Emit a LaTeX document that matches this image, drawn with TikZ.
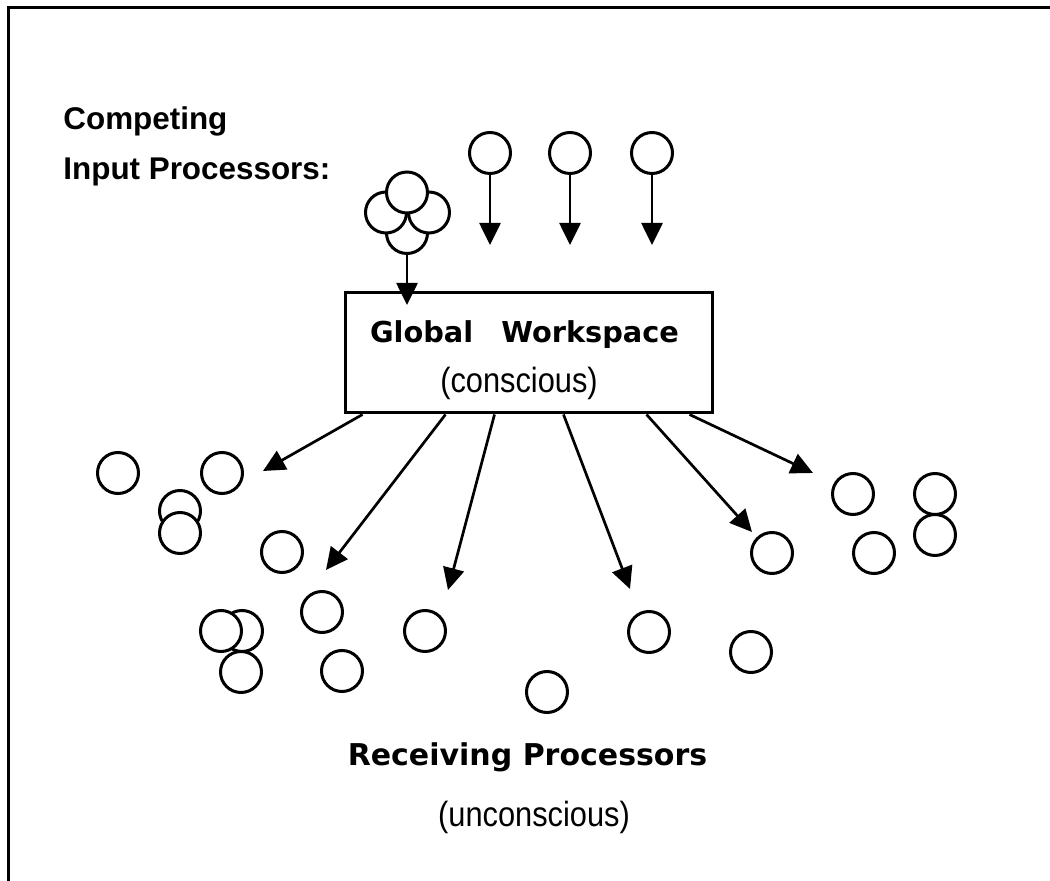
\documentclass[tikz,border=0pt]{standalone}
\usepackage{fontspec}
\setmainfont{Liberation Sans}
\newfontfamily\narrowfont[FakeStretch=0.88]{Liberation Sans}
\newfontfamily\chicfont{DejaVu Sans}
\usetikzlibrary{arrows.meta,calc}
\begin{document}
\begin{tikzpicture}[x=0.5pt,y=-0.5pt,
  proc/.style={circle,draw,line width=1.5pt,fill=white,minimum size=20.5pt,inner sep=0pt},
  arr/.style={line width=1.35pt,-{Triangle[length=11pt,width=10.5pt]}},
  frameline/.style={line width=1.5pt},
  wsbox/.style={draw,line width=1.5pt,minimum width=183.5pt,minimum height=60pt,inner sep=0pt},
  boldlab/.style={font=\bfseries\fontsize{15.7pt}{18pt}\selectfont,inner sep=0pt},
  chiclab/.style={font=\chicfont\bfseries\fontsize{14.4pt}{17pt}\selectfont,inner sep=0pt},
  paren/.style={font=\narrowfont\fontsize{17.5pt}{20pt}\selectfont,inner sep=0pt}]
\useasboundingbox (0,0) rectangle (1050,881);
% frame
\draw[frameline] (8,881) -- (8,8) -- (1050,8);
% labels
\node[boldlab,anchor=base west] (l1) at (63,130) {Competing};
\node[boldlab,anchor=base west] (l2) at (63,180) {Input Processors:};
% workspace box
\node[wsbox] (box) at (528.5,353) {};
\node[chiclab,anchor=base] (gw) at (524.5,343) {Global\hspace{14pt}Workspace};
\node[paren,anchor=base] (gc) at (519,393) {(conscious)};
% input processors
\node[proc] (t1) at (490,153) {};
\node[proc] (t2) at (570,153) {};
\node[proc] (t3) at (652,153) {};
\coordinate (e1) at (490,245);
\coordinate (e2) at (570,245);
\coordinate (e3) at (652,245);
\draw[arr] (t1) -- (e1);
\draw[arr] (t2) -- (e2);
\draw[arr] (t3) -- (e3);
% cluster
\node[proc] (kb) at (407,233) {};
\node[proc] (kl) at (386,212.5) {};
\node[proc] (kr) at (429,212.5) {};
\node[proc] (kt) at (407,192.5) {};
\coordinate (ke) at (407,305);
\draw[arr] (kb) -- (ke);
% arrows from workspace
\coordinate (a1) at (263,471);
\coordinate (a2) at (326,570);
\coordinate (a3) at (448,590);
\coordinate (a4) at (630,589);
\coordinate (a5) at (752,532);
\coordinate (a6) at (813,473);
\draw[arr] ($(box.south west)+(19,0)$) -- (a1);
\draw[arr] ($(box.south west)+(102,0)$) -- (a2);
\draw[arr] ($(box.south west)+(151,0)$) -- (a3);
\draw[arr] ($(box.south west)+(220,0)$) -- (a4);
\draw[arr] ($(box.south west)+(303,0)$) -- (a5);
\draw[arr] ($(box.south west)+(346,0)$) -- (a6);
% receiving processors
\node[proc] (c1) at (118,473) {};
\node[proc] (c2) at (222,473) {};
\node[proc] (c3a) at (180,511) {};
\node[proc] (c3b) at (180,533) {};
\node[proc] (c4) at (282,552) {};
\node[proc] (c5) at (322,612) {};
\node[proc] (c6r) at (242,631) {};
\node[proc] (c6l) at (221,631) {};
\node[proc] (c7) at (241,672) {};
\node[proc] (c8) at (342,671) {};
\node[proc] (c9) at (425,631) {};
\node[proc] (c10) at (547,692) {};
\node[proc] (c11) at (649,632) {};
\node[proc] (c12) at (751,652) {};
\node[proc] (c13) at (772,553) {};
\node[proc] (c14) at (853,494) {};
\node[proc] (c15) at (874,553) {};
\node[proc] (c16a) at (935,494) {};
\node[proc] (c16b) at (935,535) {};
% bottom labels
\node[chiclab,anchor=base,font=\chicfont\bfseries\fontsize{15pt}{18pt}\selectfont] (rp) at (527.5,765) {Receiving Processors};
\node[paren,anchor=base] (uc) at (534,827) {(unconscious)};
\end{tikzpicture}
\end{document}
